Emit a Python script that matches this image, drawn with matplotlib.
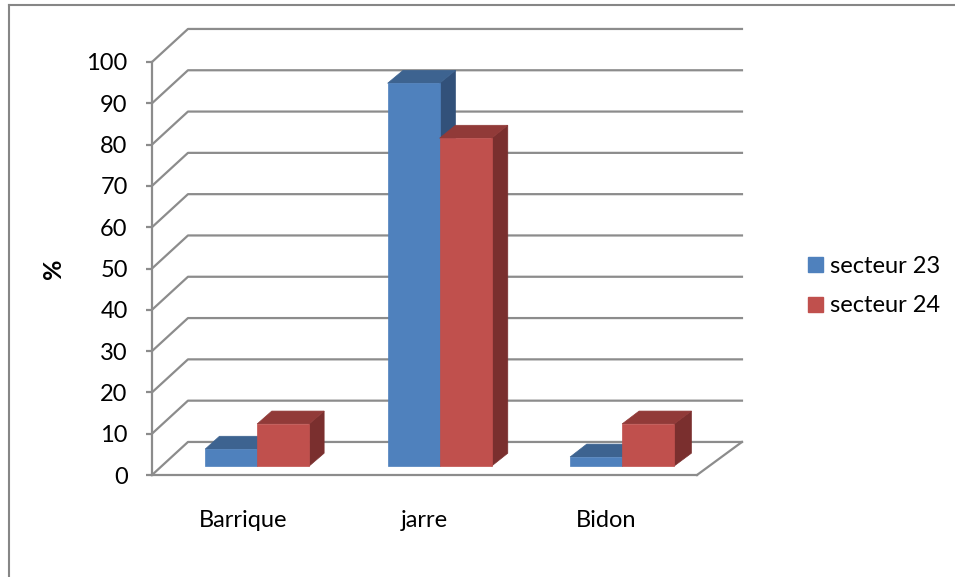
import matplotlib.pyplot as plt
from matplotlib.patches import Polygon, Patch
from matplotlib.lines import Line2D

categories = ['Barrique', 'jarre', 'Bidon']
series_names = ['secteur 23', 'secteur 24']
secteur_23 = [4.1, 92.7, 2.2]
secteur_24 = [10.2, 79.4, 10.2]
y_ticks = list(range(0, 101, 10))

front_colors = ['#4F81BD', '#C0504D']
top_colors = ['#3D6390', '#913A38']
side_colors = ['#32517A', '#7A2F2E']
grid_color = '#8C8C8C'

# depth projection: z=0 is the front plane, z=1 the back wall
DX0, DX1, DY = 0.198, 0.0165, 8.0


def proj(x, v, z):
    return (x + z * (DX0 + DX1 * x), v + z * DY)


def face(pts, color, zo):
    poly = Polygon([proj(*p) for p in pts], closed=True, facecolor=color,
                   edgecolor=color, linewidth=0.5, zorder=zo, clip_on=False)
    ax.add_patch(poly)


plt.rcParams['font.family'] = ['Lato', 'DejaVu Sans']

fig = plt.figure(figsize=(9.55, 5.77), dpi=100)
ax = fig.add_axes([152 / 955, 1 - 475 / 577, 545 / 955, 413 / 577])
ax.set_xlim(0, 3)
ax.set_ylim(0, 100)

# walls: each gridline runs along the left wall then across the back wall
for v in y_ticks:
    pts = [proj(0, v, 0), proj(0, v, 1), proj(3, v, 1)]
    ax.add_line(Line2D([p[0] for p in pts], [p[1] for p in pts], color=grid_color,
                       linewidth=1.6, zorder=1, clip_on=False))
p0, p1 = proj(3, 0, 0), proj(3, 0, 1)
ax.add_line(Line2D([p0[0], p1[0]], [p0[1], p1[1]], color=grid_color,
                   linewidth=1.6, zorder=1, clip_on=False))

# 3D columns
z0, z1 = 0.27, 0.66
width = 0.285
shift = 0.023
for i in range(len(categories)):
    for s, vals in enumerate([secteur_23, secteur_24]):
        v = vals[i]
        x0 = i + 0.5 - width + s * width + shift
        x1 = x0 + width
        zo = 3 + s
        face([(x1, 0, z0), (x1, 0, z1), (x1, v, z1), (x1, v, z0)], side_colors[s], zo)
        face([(x0, v, z0), (x1, v, z0), (x1, v, z1), (x0, v, z1)], top_colors[s], zo)
        face([(x0, 0, z0), (x1, 0, z0), (x1, v, z0), (x0, v, z0)], front_colors[s], zo)

for side in ['top', 'right']:
    ax.spines[side].set_visible(False)
for side in ['left', 'bottom']:
    ax.spines[side].set_color(grid_color)
    ax.spines[side].set_linewidth(1.6)

ax.set_yticks(y_ticks)
ax.tick_params(axis='y', direction='out', length=4.5, width=1.6, color=grid_color,
               pad=13, labelsize=17)
ax.set_xticks([i + 0.5 for i in range(len(categories))])
ax.set_xticklabels(categories)
ax.tick_params(axis='x', length=0, pad=25, labelsize=17)

ax.set_ylabel('%', fontsize=18, fontweight='bold')
ax.yaxis.set_label_coords(-0.16, 0.5)

handles = [Patch(facecolor=c, edgecolor=c) for c in front_colors]
fig.legend(handles, series_names, loc='upper left', bbox_to_anchor=(0.846, 0.557),
           frameon=False, fontsize=17, borderpad=0, handlelength=0.62,
           handleheight=0.62, handletextpad=0.3, labelspacing=0.8, borderaxespad=0)

# chart border
fig.add_artist(Line2D([9 / 955, 9 / 955], [0, 1 - 5 / 577], color='#868686',
                      linewidth=1.5, transform=fig.transFigure))
fig.add_artist(Line2D([9 / 955, 1], [1 - 5 / 577, 1 - 5 / 577], color='#868686',
                      linewidth=1.5, transform=fig.transFigure))

fig.savefig('out.png', dpi=100)
